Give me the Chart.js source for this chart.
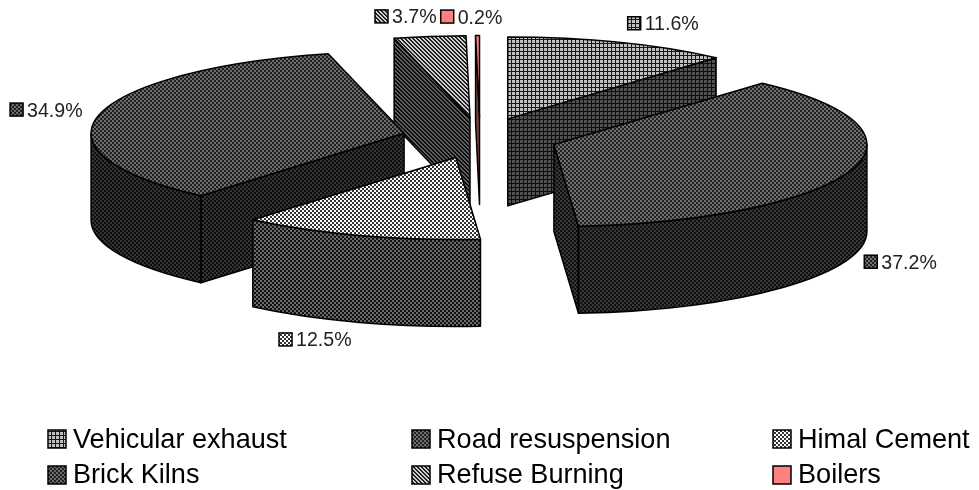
<!DOCTYPE html>
<html>
<head>
<meta charset="utf-8">
<title>Source shares</title>
<style>
  html, body { margin: 0; padding: 0; background: #fff; }
  #wrap { width: 979px; height: 490px; }
</style>
<script src="https://cdn.jsdelivr.net/npm/chart.js@4/dist/chart.umd.js"></script>
</head>
<body>
<div id="wrap"><canvas id="pie" width="979" height="490"></canvas></div>
<script>
// Data
const categories = ['Vehicular exhaust', 'Road resuspension', 'Himal Cement', 'Brick Kilns', 'Refuse Burning', 'Boilers'];
const shares     = [11.6, 37.2, 12.5, 34.9, 3.7, 0.2];

// Look of the tilted pie
const RADIUS  = 313;    // circle radius before the tilt
const TILT    = 0.262;  // vertical squash of the circle
const DEPTH   = 87;     // height of the walls
const EXPLODE = 78;     // how far each slice is pulled out
const FONT    = '"Liberation Sans", Arial, sans-serif';

// label centre relative to the rim point of the slice's middle angle
const labelNudge = [[44, -19], [50, 91], [-44, 104], [-53, -5], [-24, -20], [-6, -19]];

// legend layout
const legendCols = [48, 412, 773];
const legendRows = [439, 475];

// Builds a repeating fill from rows of L (light) and D (dark) pixels
function tile(rows, light, dark) {
  const c = document.createElement('canvas');
  c.width = rows[0].length;
  c.height = rows.length;
  const g = c.getContext('2d');
  rows.forEach((row, y) => {
    [...row].forEach((ch, x) => {
      g.fillStyle = ch === 'L' ? light : dark;
      g.fillRect(x, y, 1, 1);
    });
  });
  return g.createPattern(c, 'repeat');
}

const GRID    = ['LLLD', 'LLLD', 'LLLD', 'DDDD'];
const CHECK   = ['LLDD', 'LLDD', 'DDLL', 'DDLL'];
const DIAG    = ['LLDD', 'DLLD', 'DDLL', 'LDDL'];

const topFills = [
  tile(GRID,  '#c0c0c0', '#181818'),
  tile(CHECK, '#707070', '#222222'),
  tile(CHECK, '#ffffff', '#333333'),
  tile(CHECK, '#6c6c6c', '#202020'),
  tile(DIAG,  '#d0d0d0', '#222222'),
  '#ff8080'
];
const wallFills = [
  tile(GRID,  '#505050', '#0e0e0e'),
  tile(CHECK, '#383838', '#101010'),
  tile(CHECK, '#6c6c6c', '#111111'),
  tile(CHECK, '#343434', '#0e0e0e'),
  tile(DIAG,  '#606060', '#0c0c0c'),
  '#804040'
];

// where a slice's apex ends up after exploding and tilting
function apexOf(arc) {
  const mid = (arc.startAngle + arc.endAngle) / 2;
  return {
    mid,
    ox: Math.cos(mid) * EXPLODE,
    oy: Math.sin(mid) * EXPLODE * TILT,
    x: arc.x + Math.cos(mid) * EXPLODE,
    y: arc.y + Math.sin(mid) * EXPLODE * TILT
  };
}

function paintPath(ctx, fill) {
  ctx.fillStyle = fill;
  ctx.fill();
  ctx.stroke();
}

// flat wall along one radial edge
function drawPlane(ctx, a, angle, fill) {
  const ex = a.x + Math.cos(angle) * RADIUS;
  const ey = a.y + Math.sin(angle) * RADIUS * TILT;
  ctx.beginPath();
  ctx.moveTo(a.x, a.y);
  ctx.lineTo(ex, ey);
  ctx.lineTo(ex, ey + DEPTH);
  ctx.lineTo(a.x, a.y + DEPTH);
  ctx.closePath();
  paintPath(ctx, fill);
}

// curved wall, only the part that faces the viewer
function drawRim(ctx, a, start, end, fill) {
  const from = Math.max(start, 0);
  const to = Math.min(end, Math.PI);
  if (to <= from) return;
  ctx.beginPath();
  ctx.ellipse(a.x, a.y, RADIUS, RADIUS * TILT, 0, from, to);
  ctx.ellipse(a.x, a.y + DEPTH, RADIUS, RADIUS * TILT, 0, to, from, true);
  ctx.closePath();
  paintPath(ctx, fill);
}

const tiltedPie = {
  id: 'tiltedPie',
  // walls plus the library's own arcs, painted back to front
  beforeDatasetsDraw(chart) {
    const ctx = chart.ctx;
    const arcs = chart.getDatasetMeta(0).data;
    const order = arcs.map((arc, i) => i)
      .sort((p, q) => Math.sin(apexOf(arcs[p]).mid) - Math.sin(apexOf(arcs[q]).mid));

    ctx.save();
    ctx.lineWidth = 1.5;
    ctx.strokeStyle = '#000';
    ctx.lineJoin = 'round';

    order.forEach(i => {
      const arc = arcs[i];
      const a = apexOf(arc);
      const wall = wallFills[i];

      if (Math.sin(arc.startAngle - Math.PI / 2) > 0) drawPlane(ctx, a, arc.startAngle, wall);
      if (Math.sin(arc.endAngle + Math.PI / 2) > 0) drawPlane(ctx, a, arc.endAngle, wall);
      drawRim(ctx, a, arc.startAngle, arc.endAngle, wall);

      // top face
      ctx.save();
      ctx.translate(a.ox, a.oy + arc.y);
      ctx.scale(1, TILT);
      ctx.translate(0, -arc.y);
      // keep the pattern on whole pixels under the squash
      if (typeof topFills[i] !== 'string') {
        topFills[i].setTransform(ctx.getTransform().inverse());
      }
      arc.draw(ctx);
      ctx.beginPath();
      ctx.moveTo(arc.x, arc.y);
      ctx.arc(arc.x, arc.y, RADIUS, arc.startAngle, arc.endAngle);
      ctx.closePath();
      ctx.restore();
      ctx.stroke();
    });

    ctx.restore();
    return false;
  },
  afterDraw(chart) {
    const ctx = chart.ctx;
    const arcs = chart.getDatasetMeta(0).data;
    ctx.save();
    ctx.textBaseline = 'alphabetic';
    ctx.fillStyle = '#000';

    // value labels
    ctx.font = '19.6px ' + FONT;
    arcs.forEach((arc, i) => {
      const a = apexOf(arc);
      const text = shares[i].toFixed(1) + '%';
      const w = ctx.measureText(text).width;
      const cx = a.x + Math.cos(a.mid) * RADIUS + labelNudge[i][0];
      const cy = a.y + Math.sin(a.mid) * RADIUS * TILT + labelNudge[i][1];
      const left = cx - (w + 17) / 2;
      swatch(ctx, i, left, cy - 6.5, 13);
      ctx.fillStyle = '#222';
      ctx.fillText(text, left + 17, cy + 7);
    });

    // legend, filled row by row
    ctx.font = '27.1px ' + FONT;
    categories.forEach((name, i) => {
      const x = legendCols[i % 3];
      const y = legendRows[Math.floor(i / 3)];
      swatch(ctx, i, x, y - 9, 18);
      ctx.fillStyle = '#000';
      ctx.fillText(name, x + 25, y + 9 - Math.floor(i / 3));
    });
    ctx.restore();
  }
};

function swatch(ctx, i, x, y, size) {
  const fill = topFills[i];
  if (typeof fill !== 'string') fill.setTransform(new DOMMatrix());
  ctx.fillStyle = fill;
  ctx.fillRect(x, y, size, size);
  ctx.lineWidth = 1.5;
  ctx.strokeStyle = '#000';
  ctx.strokeRect(x, y, size, size);
}

new Chart(document.getElementById('pie'), {
  type: 'pie',
  data: {
    labels: categories,
    datasets: [{
      data: shares,
      backgroundColor: topFills,
      borderWidth: 0
    }]
  },
  options: {
    responsive: false,
    animation: false,
    events: [],
    radius: RADIUS,
    rotation: 0,
    layout: { padding: { left: 0, top: 0, right: 19, bottom: 214 } },
    plugins: {
      legend: { display: false },
      tooltip: { enabled: false }
    }
  },
  plugins: [tiltedPie]
});
</script>
</body>
</html>
